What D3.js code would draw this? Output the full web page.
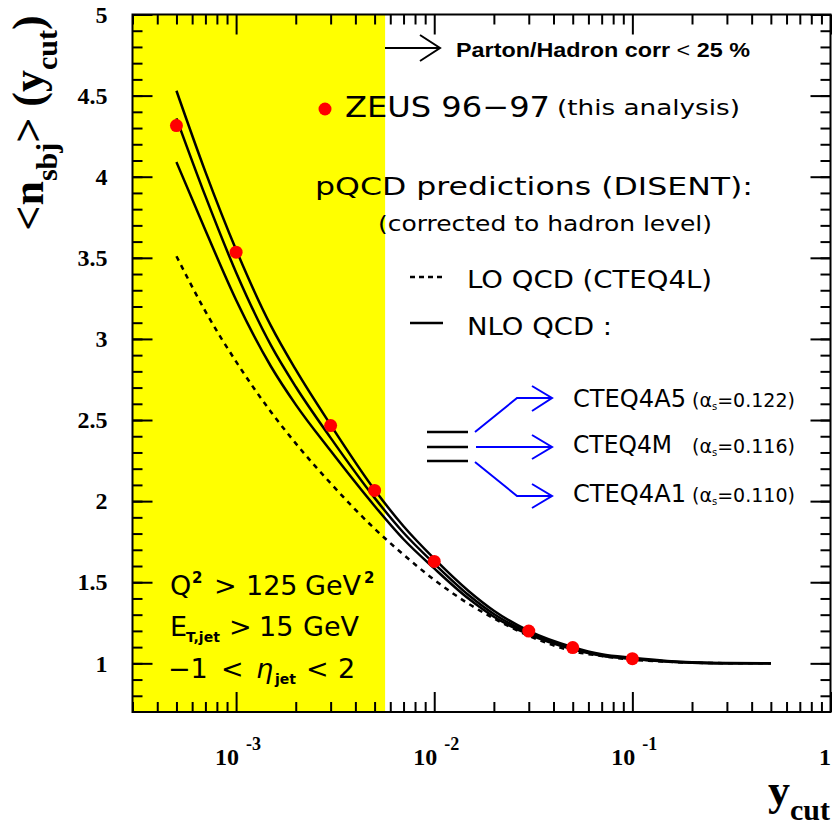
<!DOCTYPE html>
<html>
<head>
<meta charset="utf-8">
<script src="https://cdn.jsdelivr.net/npm/d3@7"></script>
<style>
  body { margin: 0; background: #fff; }
  svg { display: block; }
</style>
</head>
<body>
<div id="chart"></div>
<script>
// ycut grid used for the theory curves
const ycutGrid = [5e-4, 7e-4, 1e-3, 1.5e-3, 2e-3, 3e-3, 5e-3, 7e-3, 1e-2, 1.5e-2, 2e-2, 3e-2, 5e-2, 7e-2, 0.1, 0.15, 0.2, 0.3, 0.5];

// NLO QCD curves (CTEQ4A5, CTEQ4M, CTEQ4A1) and LO QCD (CTEQ4L)
const nloA5 = [4.53, 4.03, 3.55, 3.08, 2.81, 2.47, 2.07, 1.845, 1.645, 1.443, 1.324, 1.20, 1.10, 1.056, 1.034, 1.015, 1.007, 1.002, 1.0];
const nloM  = [4.36, 3.88, 3.41, 2.96, 2.705, 2.39, 2.02, 1.805, 1.615, 1.418, 1.304, 1.188, 1.092, 1.05, 1.029, 1.012, 1.005, 1.001, 1.0];
const nloA1 = [4.09, 3.67, 3.24, 2.83, 2.595, 2.31, 1.97, 1.765, 1.585, 1.396, 1.287, 1.178, 1.086, 1.046, 1.027, 1.011, 1.004, 1.001, 1.0];
const loL   = [3.51, 3.17, 2.86, 2.55, 2.356, 2.11, 1.83, 1.67, 1.515, 1.365, 1.277, 1.17, 1.075, 1.045, 1.022, 1.01, 1.004, 1.001, 1.0];

// ZEUS 96-97 data points
const dataYcut = [5e-4, 1e-3, 3e-3, 5e-3, 1e-2, 3e-2, 5e-2, 0.1];
const dataNsbj = [4.315, 3.535, 2.466, 2.066, 1.628, 1.199, 1.097, 1.029];

// region where parton/hadron correction > 25 %
const yellowEdge = 5.65e-3;

// ticks
const xMajor = [1e-3, 1e-2, 1e-1, 1];
const xMinor = [];
[1e-4, 1e-3, 1e-2, 1e-1].forEach(dec => {
    for (let m = 2; m <= 9; m++) if (m * dec > 3e-4) xMinor.push(m * dec);
});
const yMajor = [1, 1.5, 2, 2.5, 3, 3.5, 4, 4.5, 5];
const yMinor = d3.range(8, 50).map(d => d / 10);

const W = 832, H = 825;
const pLeft = 132.5, pRight = 830.5, pTop = 14.5, pBottom = 712;

const svg = d3.select("#chart").append("svg")
    .attr("width", W).attr("height", H);

const x = d3.scaleLog().domain([3e-4, 1]).range([pLeft, pRight]);
const y = d3.scaleLinear().domain([0.7, 5]).range([pBottom, pTop]);

const serif = "'Liberation Serif', 'Times New Roman', serif";
const sans = "'DejaVu Sans', sans-serif";

// yellow band
svg.append("rect")
    .attr("x", x(3e-4)).attr("y", y(5))
    .attr("width", x(yellowEdge) - x(3e-4))
    .attr("height", y(0.7) - y(5))
    .attr("fill", "#ffff00");

// axes with inward ticks
function drawAxis(axis, tr, values, size) {
    const g = svg.append("g")
        .attr("transform", tr)
        .call(axis.tickValues(values).tickSize(size).tickFormat(""));
    g.select(".domain").remove();
    g.selectAll("line").attr("stroke", "#000").attr("stroke-width", 2);
    return g;
}
drawAxis(d3.axisBottom(x), `translate(0,${pBottom})`, xMajor, -20);
drawAxis(d3.axisBottom(x), `translate(0,${pBottom})`, xMinor, -10);
drawAxis(d3.axisTop(x), `translate(0,${pTop})`, xMajor, -20);
drawAxis(d3.axisTop(x), `translate(0,${pTop})`, xMinor, -10);
drawAxis(d3.axisRight(y), `translate(${pRight},0)`, yMajor, -20);
drawAxis(d3.axisRight(y), `translate(${pRight},0)`, yMinor, -10);
drawAxis(d3.axisLeft(y), `translate(${pLeft},0)`, yMinor, -10);

// left axis with labels
const yAx = svg.append("g")
    .attr("transform", `translate(${pLeft},0)`)
    .call(d3.axisLeft(y).tickValues(yMajor).tickSize(-20).tickPadding(25).tickFormat(d => String(d)));
yAx.select(".domain").remove();
yAx.selectAll("line").attr("stroke", "#000").attr("stroke-width", 2);
yAx.selectAll("text")
    .attr("font-family", serif).attr("font-weight", "bold")
    .attr("font-size", 24).attr("fill", "#000");

// x tick labels, 10^n
const xl = svg.append("g");
xMajor.forEach(d => {
    if (d === 1) {
        xl.append("text").attr("x", 831).attr("y", 765)
            .attr("text-anchor", "end")
            .attr("font-family", serif).attr("font-weight", "bold").attr("font-size", 24)
            .text("1");
    } else {
        xl.append("text").attr("x", x(d) + 3).attr("y", 765)
            .attr("text-anchor", "end")
            .attr("font-family", serif).attr("font-weight", "bold").attr("font-size", 24)
            .text("10");
        xl.append("text").attr("x", x(d) + 10).attr("y", 750)
            .attr("font-family", serif).attr("font-weight", "bold").attr("font-size", 18)
            .text("-" + Math.round(-Math.log10(d)));
    }
});

// frame
svg.append("rect")
    .attr("x", pLeft).attr("y", pTop)
    .attr("width", pRight - pLeft).attr("height", pBottom - pTop)
    .attr("fill", "none").attr("stroke", "#000").attr("stroke-width", 2);

// theory curves
const line = d3.line()
    .x(d => x(d[0])).y(d => y(d[1]))
    .curve(d3.curveMonotoneX);

[nloA5, nloM, nloA1].forEach(vals => {
    svg.append("path")
        .attr("d", line(ycutGrid.map((c, i) => [c, vals[i]])))
        .attr("fill", "none").attr("stroke", "#000").attr("stroke-width", 2.5);
});
svg.append("path")
    .attr("d", line(ycutGrid.map((c, i) => [c, loL[i]])))
    .attr("fill", "none").attr("stroke", "#000").attr("stroke-width", 2.5)
    .attr("stroke-dasharray", "5,5");

// data points
svg.selectAll(".pt")
    .data(dataYcut.map((c, i) => [c, dataNsbj[i]]))
    .enter().append("circle")
    .attr("class", "pt")
    .attr("cx", d => x(d[0])).attr("cy", d => y(d[1]))
    .attr("r", 6.5).attr("fill", "#ff0000");

// axis titles
const yt = svg.append("text")
    .attr("transform", "translate(43,123) rotate(-90)")
    .attr("text-anchor", "middle")
    .attr("font-family", serif).attr("font-weight", "bold").attr("font-size", 44);
yt.append("tspan").text("<n");
yt.append("tspan").attr("font-size", 30).attr("dy", 14).text("sbj");
yt.append("tspan").attr("dy", -14).text("> (y");
yt.append("tspan").attr("font-size", 30).attr("dy", 14).text("cut");
yt.append("tspan").attr("dy", -14).text(")");

const xt = svg.append("text")
    .attr("x", 768).attr("y", 805)
    .attr("font-family", serif).attr("font-weight", "bold").attr("font-size", 44);
xt.append("tspan").text("y");
xt.append("tspan").attr("font-size", 30).attr("dy", 15).text("cut");

// annotations
const ink = "#000";
function seg(pts, color, w) {
    svg.append("path")
        .attr("d", d3.line()(pts))
        .attr("fill", "none").attr("stroke", color).attr("stroke-width", w || 2);
}

// parton/hadron arrow
seg([[385, 48], [440, 48]], ink);
seg([[420, 35], [440, 48], [420, 61]], ink);
const ph = svg.append("text")
    .attr("x", 456).attr("y", 57)
    .attr("font-family", "'Liberation Sans', Arial, sans-serif").attr("font-size", 21)
    .attr("textLength", 294).attr("lengthAdjust", "spacingAndGlyphs");
ph.append("tspan").attr("font-weight", "bold").text("Parton/Hadron corr ");
ph.append("tspan").text("<");
ph.append("tspan").attr("font-weight", "bold").text(" 25 %");

// legend
svg.append("circle").attr("cx", 325).attr("cy", 109).attr("r", 6.5).attr("fill", "#ff0000");
svg.append("text").attr("x", 345).attr("y", 117)
    .attr("font-family", sans).attr("font-size", 29)
    .attr("textLength", 205).attr("lengthAdjust", "spacingAndGlyphs")
    .text("ZEUS 96−97");
svg.append("text").attr("x", 557).attr("y", 115)
    .attr("font-family", sans).attr("font-size", 21)
    .attr("textLength", 183).attr("lengthAdjust", "spacingAndGlyphs")
    .text("(this analysis)");

svg.append("text").attr("x", 315).attr("y", 195)
    .attr("font-family", sans).attr("font-size", 24)
    .attr("textLength", 438).attr("lengthAdjust", "spacingAndGlyphs")
    .text("pQCD predictions (DISENT):");
svg.append("text").attr("x", 378).attr("y", 231)
    .attr("font-family", sans).attr("font-size", 21)
    .attr("textLength", 334).attr("lengthAdjust", "spacingAndGlyphs")
    .text("(corrected to hadron level)");

svg.append("path").attr("d", d3.line()([[410, 277], [443, 277]]))
    .attr("stroke", ink).attr("stroke-width", 2.5).attr("stroke-dasharray", "5,4");
svg.append("text").attr("x", 467).attr("y", 288)
    .attr("font-family", sans).attr("font-size", 24)
    .attr("textLength", 245).attr("lengthAdjust", "spacingAndGlyphs")
    .text("LO QCD (CTEQ4L)");
seg([[410, 323], [443, 323]], ink, 2.5);
svg.append("text").attr("x", 467).attr("y", 335)
    .attr("font-family", sans).attr("font-size", 24)
    .attr("textLength", 145).attr("lengthAdjust", "spacingAndGlyphs")
    .text("NLO QCD :");

// three lines and blue arrows
[432, 447, 461].forEach(v => seg([[427, v], [468, v]], ink, 2.5));
const blue = "#0000ff";
seg([[475, 432], [517, 398], [552, 398]], blue);
seg([[532, 386], [552, 398], [532, 411]], blue);
seg([[476, 447], [552, 447]], blue);
seg([[532, 435], [552, 447], [532, 459]], blue);
seg([[475, 462], [517, 496], [552, 496]], blue);
seg([[532, 484], [552, 496], [532, 508]], blue);

const pdfs = ["CTEQ4A5", "CTEQ4M", "CTEQ4A1"];
const alphas = ["0.122", "0.116", "0.110"];
const pdfY = [407, 453, 502];
pdfs.forEach((p, i) => {
    svg.append("text").attr("x", 573).attr("y", pdfY[i])
        .attr("font-family", sans).attr("font-size", 24)
        .attr("textLength", p === "CTEQ4M" ? 99 : 113).attr("lengthAdjust", "spacingAndGlyphs")
        .text(p);
    const t = svg.append("text").attr("x", 692).attr("y", pdfY[i])
        .attr("font-family", sans).attr("font-size", 19);
    t.append("tspan").text("(α");
    t.append("tspan").attr("font-size", 10).attr("dy", 3).text("s");
    t.append("tspan").attr("dy", -3).text("=" + alphas[i] + ")");
});

// cuts
function cutLine(yb, parts) {
    const t = svg.append("text").attr("y", yb)
        .attr("font-family", sans).attr("font-size", 27);
    parts.forEach(p => {
        const s = t.append("tspan").attr("x", p.x).attr("y", yb + (p.dy || 0)).text(p.t);
        if (p.size) s.attr("font-size", p.size);
        if (p.it) s.attr("font-style", "italic");
        if (p.b) s.attr("font-weight", "bold");
    });
}
cutLine(595, [
    {t: "Q", x: 170}, {t: "2", x: 192, dy: -12, size: 15, b: true},
    {t: ">", x: 214}, {t: "125", x: 246}, {t: "GeV", x: 305},
    {t: "2", x: 364, dy: -12, size: 15, b: true}
]);
cutLine(636, [
    {t: "E", x: 170}, {t: "T,jet", x: 186, dy: 6, size: 14, b: true},
    {t: ">", x: 229}, {t: "15", x: 259}, {t: "GeV", x: 303}
]);
cutLine(678, [
    {t: "−1", x: 168}, {t: "<", x: 221}, {t: "η", x: 256, it: true},
    {t: "jet", x: 275, dy: 6, size: 14, b: true},
    {t: "<", x: 306}, {t: "2", x: 338}
]);
</script>
</body>
</html>
